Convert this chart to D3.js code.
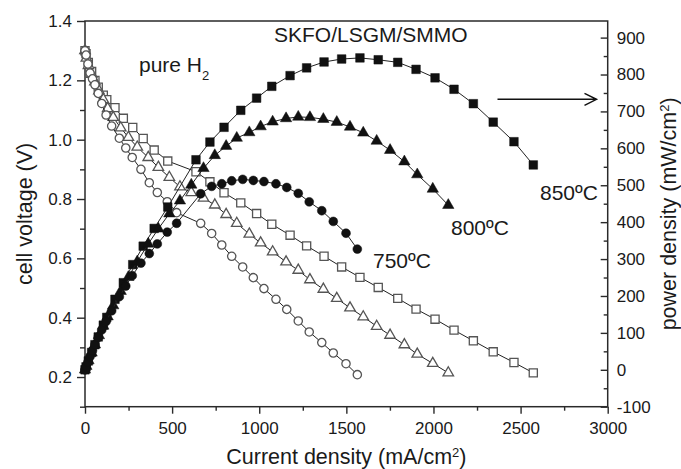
<!DOCTYPE html>
<html>
<head>
<meta charset="utf-8">
<script src="https://cdn.jsdelivr.net/npm/d3@7"></script>
<style>
  body { margin: 0; background: #fff; }
  svg text { font-family: "Liberation Sans", Arial, sans-serif; fill: #1a1a1a; }
</style>
</head>
<body>
<svg id="chart"></svg>
<script>
const width = 681;
const height = 469;

// 850 C
const cur850 = [0, 6, 19, 38, 57, 76, 105, 125, 172, 220, 274, 334, 397, 475, 637, 717, 798, 894, 985, 1072, 1177, 1272, 1372, 1473, 1578, 1683, 1795, 1900, 2009, 2118, 2229, 2343, 2462, 2573];
const volt850 = [1.30, 1.29, 1.26, 1.23, 1.20, 1.177, 1.15, 1.135, 1.108, 1.072, 1.041, 1.004, 0.965, 0.928, 0.892, 0.858, 0.821, 0.787, 0.751, 0.715, 0.678, 0.642, 0.607, 0.571, 0.536, 0.502, 0.465, 0.429, 0.395, 0.358, 0.322, 0.285, 0.249, 0.214];
const pow850 = [0, 8, 24, 47, 68, 89, 121, 142, 191, 236, 285, 335, 383, 441, 569, 617, 657, 703, 736, 768, 797, 818, 834, 842, 845, 840, 833, 814, 791, 760, 721, 671, 618, 555];

// 800 C
const cur800 = [0, 8, 20, 38, 57, 80, 105, 130, 162, 205, 249, 300, 363, 421, 484, 545, 610, 680, 745, 810, 871, 943, 1008, 1077, 1154, 1224, 1291, 1368, 1445, 1521, 1597, 1674, 1751, 1833, 1907, 1996, 2085];
const volt800 = [1.30, 1.275, 1.25, 1.22, 1.195, 1.165, 1.135, 1.105, 1.075, 1.04, 1.008, 0.975, 0.94, 0.907, 0.873, 0.841, 0.822, 0.803, 0.78, 0.748, 0.718, 0.682, 0.652, 0.622, 0.588, 0.560, 0.528, 0.496, 0.465, 0.433, 0.403, 0.371, 0.341, 0.309, 0.277, 0.246, 0.214];
const pow800 = [0, 10, 25, 46, 68, 93, 119, 144, 174, 213, 251, 293, 341, 382, 423, 458, 501, 546, 581, 606, 628, 643, 659, 672, 681, 685, 684, 679, 671, 658, 642, 620, 595, 564, 529, 490, 446];

// 750 C
const cur750 = [0, 6, 17, 29, 43, 57, 76, 96, 121, 153, 197, 234, 271, 321, 369, 415, 472, 526, 664, 727, 785, 842, 905, 966, 1027, 1096, 1158, 1224, 1287, 1359, 1425, 1498, 1563];
const volt750 = [1.30, 1.285, 1.255, 1.225, 1.205, 1.185, 1.156, 1.122, 1.083, 1.046, 1.005, 0.972, 0.940, 0.900, 0.855, 0.822, 0.791, 0.754, 0.718, 0.684, 0.645, 0.607, 0.571, 0.535, 0.498, 0.462, 0.428, 0.389, 0.352, 0.316, 0.281, 0.245, 0.208];
const pow750 = [0, 8, 21, 36, 52, 68, 88, 108, 131, 160, 198, 227, 255, 289, 315, 341, 373, 397, 477, 497, 504, 512, 516, 513, 510, 504, 494, 478, 455, 431, 402, 370, 327];

const xTicks = [0, 500, 1000, 1500, 2000, 2500, 3000];
const xMinor = [250, 750, 1250, 1750, 2250, 2750];
const vTicks = [0.2, 0.4, 0.6, 0.8, 1.0, 1.2, 1.4];
const vMinor = [0.1, 0.3, 0.5, 0.7, 0.9, 1.1, 1.3];
const pTicks = [-100, 0, 100, 200, 300, 400, 500, 600, 700, 800, 900];
const pMinor = [-50, 50, 150, 250, 350, 450, 550, 650, 750, 850];

const mLeft = 85, mRight = 607.7, mTop = 21, mBottom = 406.7;

const x = d3.scaleLinear().domain([0, 3000]).range([mLeft, mRight]);
const yV = d3.scaleLinear().domain([0.1, 1.4]).range([mBottom, mTop]);
const yP = d3.scaleLinear().domain([-100, 945]).range([mBottom, mTop]);

const svg = d3.select("#chart")
    .attr("width", width)
    .attr("height", height);

const axisColor = "#2a2a2a";

function styleAxis(g) {
    g.select(".domain").remove();
    g.selectAll(".tick line").attr("stroke", axisColor).attr("stroke-width", 1.4);
    g.selectAll(".tick text").style("font-size", "17px").attr("fill", "#1a1a1a");
}

// bottom axis
svg.append("g")
    .attr("transform", `translate(0,${mBottom})`)
    .call(d3.axisBottom(x).tickValues(xTicks).tickSize(7).tickPadding(8).tickFormat(d => String(d)))
    .call(styleAxis);
svg.append("g")
    .attr("transform", `translate(0,${mBottom})`)
    .call(d3.axisBottom(x).tickValues(xMinor).tickSize(4).tickFormat(""))
    .call(styleAxis);

// left axis
svg.append("g")
    .attr("transform", `translate(${mLeft},0)`)
    .call(d3.axisLeft(yV).tickValues(vTicks).tickSize(8).tickPadding(5).tickFormat(d => d.toFixed(1)))
    .call(styleAxis);
svg.append("g")
    .attr("transform", `translate(${mLeft},0)`)
    .call(d3.axisLeft(yV).tickValues(vMinor).tickSize(5).tickFormat(""))
    .call(styleAxis);

// right axis, ticks pointing inward
svg.append("g")
    .attr("transform", `translate(${mRight},0)`)
    .call(d3.axisRight(yP).tickValues(pTicks).tickSizeInner(-7).tickSizeOuter(0).tickPadding(9).tickFormat(d => String(d)))
    .call(styleAxis);
svg.append("g")
    .attr("transform", `translate(${mRight},0)`)
    .call(d3.axisRight(yP).tickValues(pMinor).tickSizeInner(-4).tickSizeOuter(0).tickFormat(""))
    .call(styleAxis);

// frame
svg.append("rect")
    .attr("x", mLeft).attr("y", mTop)
    .attr("width", mRight - mLeft).attr("height", mBottom - mTop)
    .attr("fill", "none")
    .attr("stroke", axisColor)
    .attr("stroke-width", 1.5);

// series
const series = [
    { cur: cur850, v: volt850, p: pow850, shape: d3.symbolSquare, size: 66 },
    { cur: cur800, v: volt800, p: pow800, shape: d3.symbolTriangle, size: 48 },
    { cur: cur750, v: volt750, p: pow750, shape: d3.symbolCircle, size: 54 }
];

const plot = svg.append("g");

function drawSeries(s, vals, yScale, filled) {
    const pts = s.cur.map((c, i) => [c, vals[i]]);
    const line = d3.line().x(d => x(d[0])).y(d => yScale(d[1]));
    plot.append("path")
        .datum(pts)
        .attr("d", line)
        .attr("fill", "none")
        .attr("stroke", "#222")
        .attr("stroke-width", 1);
    plot.selectAll(null)
        .data(pts)
        .enter().append("path")
        .attr("d", d3.symbol().type(s.shape).size(filled ? s.size + 8 : s.size))
        .attr("transform", d => `translate(${x(d[0])},${yScale(d[1])})`)
        .attr("fill", filled ? "#111" : "#fff")
        .attr("stroke", filled ? "#111" : "#555")
        .attr("stroke-width", filled ? 0.5 : 1.3);
}

series.forEach(s => drawSeries(s, s.v, yV, false));
series.forEach(s => drawSeries(s, s.p, yP, true));

// axis titles
svg.append("text")
    .attr("transform", `translate(32,${(mTop + mBottom) / 2}) rotate(-90)`)
    .attr("text-anchor", "middle")
    .style("font-size", "21.5px")
    .text("cell voltage (V)");

const rt = svg.append("text")
    .attr("transform", `translate(676,${(mTop + mBottom) / 2}) rotate(-90)`)
    .attr("text-anchor", "middle")
    .style("font-size", "21.5px");
rt.append("tspan").text("power density (mW/cm");
rt.append("tspan").attr("baseline-shift", "super").style("font-size", "13px").text("2");
rt.append("tspan").text(")");

const bt = svg.append("text")
    .attr("x", (mLeft + mRight) / 2)
    .attr("y", 464)
    .attr("text-anchor", "middle")
    .style("font-size", "21.5px");
bt.append("tspan").text("Current density (mA/cm");
bt.append("tspan").attr("baseline-shift", "super").style("font-size", "13px").text("2");
bt.append("tspan").text(")");

// annotations
svg.append("text")
    .attr("x", 274).attr("y", 41.5)
    .style("font-size", "21px")
    .text("SKFO/LSGM/SMMO");

const ph = svg.append("text")
    .attr("x", 139).attr("y", 71.5)
    .style("font-size", "21px");
ph.append("tspan").text("pure H");
ph.append("tspan").attr("baseline-shift", "sub").style("font-size", "13px").text("2");

svg.append("text").attr("x", 540).attr("y", 200).style("font-size", "21px").text("850ºC");
svg.append("text").attr("x", 451).attr("y", 235).style("font-size", "21px").text("800ºC");
svg.append("text").attr("x", 373).attr("y", 268).style("font-size", "21px").text("750ºC");

// arrow to right axis
svg.append("path")
    .attr("d", "M497.5,99.3H596.5M584.5,93.3L596.5,99.3L584.5,105.3")
    .attr("fill", "none")
    .attr("stroke", "#111")
    .attr("stroke-width", 1.5);
</script>
</body>
</html>
